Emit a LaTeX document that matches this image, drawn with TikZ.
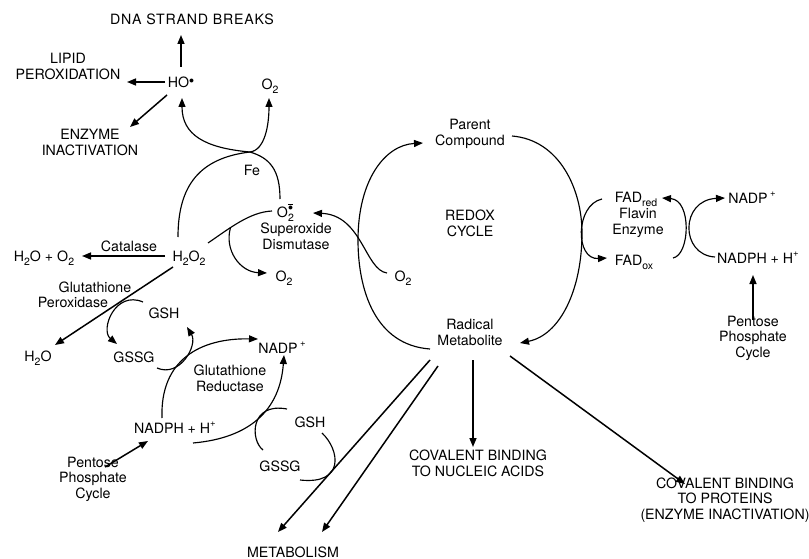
\documentclass[tikz,border=0pt]{standalone}
\usepackage{fontspec}
\setmainfont{TeX Gyre Heros}
\newfontfamily\widecaps[LetterSpace=5.5]{TeX Gyre Heros}
\usetikzlibrary{arrows.meta}
% chemical index helpers
\newcommand{\lowidx}[1]{\raisebox{-0.55ex}{\fontsize{10.5}{10.5}\selectfont #1}}
\newcommand{\highidx}[1]{\raisebox{0.85ex}{\fontsize{9.5}{9.5}\selectfont #1}}
\newcommand{\raddot}{\raisebox{0.5ex}{$\scriptstyle\bullet$}}
\newcommand{\superox}{O\rlap{\lowidx{2}}\raisebox{0.95ex}{$\scriptstyle\overline{\bullet}$}}
\begin{document}
\begin{tikzpicture}[x=1pt,y=-1pt,
  lbl/.style={font=\fontsize{14.2}{15.5}\selectfont, inner sep=0pt, align=center,
              text height=10.2pt, text depth=0pt},
  arr/.style={-{Triangle[length=9pt,width=7pt]}, line width=1.5pt},
  crv/.style={line width=1.15pt},
  carr/.style={crv, -{Triangle[length=9pt,width=7pt]}}]
\useasboundingbox (0,0) rectangle (809,559);

% ---- labels ----
\node[lbl] (dna)    at (192,19)  {\widecaps DNA STRAND BREAKS};
\node[lbl] (lipid)  at (68,74)   {LIPID\\PEROXIDATION};
\node[lbl] (ho)     at (181,82)  {HO\raddot};
\node[lbl] (enz)    at (90,150)  {ENZYME\\INACTIVATION};
\node[lbl] (o2top)  at (270,84)  {O\lowidx{2}};
\node[lbl] (fe)     at (252,170) {Fe};
\node[lbl] (sup)    at (285,212) {\superox};
\node[lbl] (sod)    at (296,244) {Superoxide\\Dismutase};
\node[lbl] (o2sod)  at (284,276) {O\lowidx{2}};
\node[lbl] (h2o2)   at (189,256) {H\lowidx{2}O\lowidx{2}};
\node[lbl] (cat)    at (129,246) {Catalase};
\node[lbl] (h2oo2)  at (44,256)  {H\lowidx{2}O + O\lowidx{2}};
\node[lbl] (gpxa)   at (95,287)  {Glutathione};
\node[lbl] (gpxb)   at (73,302)  {Peroxidase};
\node[lbl] (h2o)    at (38,356)  {H\lowidx{2}O};
\node[lbl] (gsh1)   at (164,313) {GSH};
\node[lbl] (gssg1)  at (134,357) {GSSG};
\node[lbl] (nadp1)  at (282,348) {NADP\,\highidx{+}};
\node[lbl] (gred)   at (230,386) {Glutathione\\Reductase};
\node[lbl] (nadph1) at (175,428) {NADPH + H\highidx{+}};
\node[lbl] (ppc1)   at (93,493)  {Pentose\\Phosphate\\Cycle};
\node[lbl] (gsh2)   at (310,422) {GSH};
\node[lbl] (gssg2)  at (280,466) {GSSG};
\node[lbl] (metab)  at (293,552) {METABOLISM};
\node[lbl] (parent) at (470,140) {Parent\\Compound};
\node[lbl] (redox)  at (470,231) {REDOX\\CYCLE};
\node[lbl] (radical) at (470,340) {Radical\\Metabolite};
\node[lbl] (o2mid)  at (403,276) {O\lowidx{2}};
\node[lbl] (fadred) at (636,197) {FAD\lowidx{red}};
\node[lbl] (flavin) at (638,229) {Flavin\\Enzyme};
\node[lbl] (fadox)  at (634,260) {FAD\lowidx{ox}};
\node[lbl] (nadp2)  at (752,198) {NADP\,\highidx{+}};
\node[lbl] (nadph2) at (758,258) {NADPH + H\highidx{+}};
\node[lbl] (ppc2)   at (753,352) {Pentose\\Phosphate\\Cycle};
\node[lbl] (nucl)   at (478,471) {COVALENT BINDING\\TO NUCLEIC ACIDS};
\node[lbl] (prot)   at (725,514) {COVALENT BINDING\\TO PROTEINS\\(ENZYME INACTIVATION)};

% ---- hydroxyl radical damage ----
\draw[arr] ([shift={(0,-15)}]ho.center) -- ([shift={(-11,16)}]dna.center);
\draw[arr] ([shift={(-16,0)}]ho.center) -- ([shift={(59,8)}]lipid.center);
\draw[arr] ([shift={(-14,13)}]ho.center) -- ([shift={(40,-23)}]enz.center);

% ---- Fe-catalysed Haber-Weiss reaction ----
\draw[carr] ([shift={(-11,-19)}]h2o2.center) .. controls (178,185) and (200,158) .. (250,152)
  .. controls (265,150) and (269,125) .. ([shift={(-1,14)}]o2top.center);
\draw[carr] ([shift={(-5,-13)}]sup.center) .. controls (280,170) and (270,158) .. (250,152)
  .. controls (205,148) and (182,135) .. ([shift={(1,16)}]ho.center);

% ---- superoxide dismutase ----
\draw[crv] ([shift={(-13,-1)}]sup.center) .. controls (250,212) and (230,228) .. ([shift={(19,-13)}]h2o2.center)
  coordinate[pos=0.65] (sodj);
\draw[carr] (sodj) .. controls (224,250) and (240,272) .. ([shift={(-17,-3)}]o2sod.center);

% ---- oxygen to superoxide from the redox cycle ----
\draw[carr] ([shift={(-16,-3)}]o2mid.center) .. controls (365,270) and (362,215) .. ([shift={(28,1)}]sup.center);

% ---- catalase and glutathione peroxidase ----
\draw[arr] ([shift={(-24,0)}]h2o2.center) -- ([shift={(38,0)}]h2oo2.center);
\draw[arr] ([shift={(-16,11)}]h2o2.center) -- ([shift={(17,-11)}]h2o.center);
\draw[carr] ([shift={(-21,-11)}]gsh1.center) .. controls (115,290) and (100,330) .. ([shift={(-17,-13)}]gssg1.center);
\draw[carr] ([shift={(23,11)}]gssg1.center) .. controls (180,378) and (198,345) .. ([shift={(23,14)}]gsh1.center);

% ---- glutathione reductase ----
\draw[carr] ([shift={(-13,-10)}]nadph1.center) .. controls (160,360) and (200,338) .. ([shift={(-24,-9)}]nadp1.center);
\draw[carr] ([shift={(18,15)}]nadph1.center) .. controls (250,438) and (280,410) .. ([shift={(2,7)}]nadp1.center);
\draw[arr] ([shift={(12,-26)}]ppc1.center) -- ([shift={(-27,13)}]nadph1.center);
\draw[crv] ([shift={(-23,-13)}]gsh2.center) .. controls (250,402) and (250,440) .. ([shift={(-17,-16)}]gssg2.center);
\draw[crv] ([shift={(12,11)}]gsh2.center) .. controls (340,450) and (345,485) .. ([shift={(20,14)}]gssg2.center);

% ---- redox cycle ----
\draw[carr] ([shift={(-40,9)}]radical.center) .. controls (375,345) and (358,290) .. (358,240)
  .. controls (358,180) and (385,145) .. ([shift={(-47,3)}]parent.center);
\draw[carr] ([shift={(42,-4)}]parent.center) .. controls (560,140) and (582,190) .. (582,233)
  .. controls (582,290) and (560,335) .. ([shift={(50,3)}]radical.center);

% ---- flavin enzyme and NADPH ----
\draw[carr] ([shift={(-34,2)}]fadred.center) .. controls (575,205) and (575,260) .. ([shift={(-27,-2)}]fadox.center);
\draw[carr] ([shift={(39,-2)}]fadox.center) .. controls (690,255) and (692,200) .. ([shift={(26,1)}]fadred.center);
\draw[carr] ([shift={(-43,-1)}]nadph2.center) .. controls (680,255) and (680,200) .. ([shift={(-27,0)}]nadp2.center);
\draw[arr] ([shift={(0,-32)}]ppc2.center) -- ([shift={(-5,17)}]nadph2.center);

% ---- fates of the radical metabolite ----
\draw[arr] ([shift={(-40,20)}]radical.center) -- ([shift={(-15,-20)}]metab.center);
\draw[arr] ([shift={(-32,26)}]radical.center) -- ([shift={(29,-20)}]metab.center);
\draw[arr] ([shift={(3,20)}]radical.center) -- ([shift={(-5,-24)}]nucl.center);
\draw[arr] ([shift={(40,16)}]radical.center) -- ([shift={(-40,-30)}]prot.center);
\end{tikzpicture}
\end{document}
